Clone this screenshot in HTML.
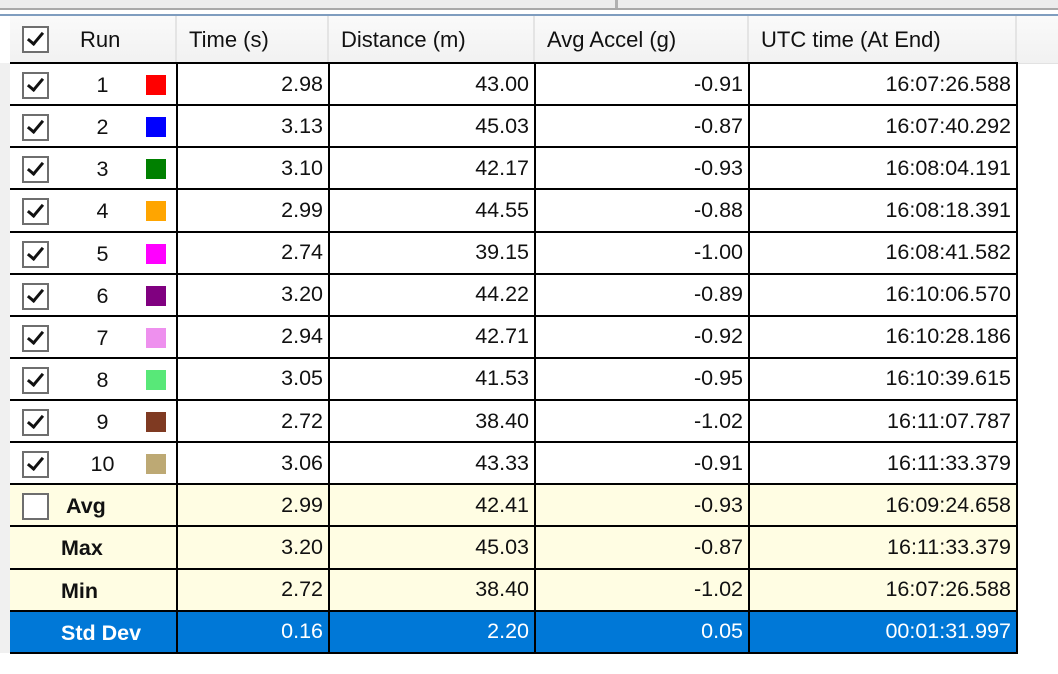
<!DOCTYPE html>
<html><head><meta charset="utf-8"><style>
html,body{margin:0;padding:0;width:1058px;height:674px;overflow:hidden;background:#fff;font-family:"Liberation Sans",sans-serif;}
.top{position:absolute;left:0;top:0;width:1058px;height:8px;background:#ececec;}
.top .sep{position:absolute;left:615px;top:0;width:3px;height:8px;background:#b0b0b0;}
.l1{position:absolute;left:0;top:8px;width:1058px;height:2px;background:#a8a8a8;}
.l2{position:absolute;left:0;top:14px;width:1058px;height:2px;background:#7f9dbf;}
.strip{position:absolute;left:0;top:63px;width:10px;height:590px;background:#f0f0f0;}
.hdr{position:absolute;left:10px;top:16px;width:1048px;height:47px;background:linear-gradient(#fafafa,#f1f1f1);border-bottom:1px solid #e2e2e2;}
.hc{position:absolute;top:0;height:47px;line-height:48px;font-size:22px;color:#111;border-right:2px solid #e4e4e4;box-sizing:border-box;padding-left:12px;}
table{position:absolute;left:10px;top:62px;border-collapse:collapse;table-layout:fixed;}
td{border:2px solid #000;height:40.14px;padding:0 5px 0 0;font-size:21.5px;text-align:right;color:#111;white-space:nowrap;overflow:hidden;}
td.f{border-left:none;text-align:left;padding:0;position:relative;}
tr.y td{background:#fffde3;}
tr.b td{background:#0078d7;color:#fff;}
.cb{position:absolute;left:12px;top:8px;width:23px;height:23px;border:2px solid #6e6e6e;background:#fff;}
.cb.k::after{content:"";position:absolute;left:7px;top:1px;width:6px;height:13px;border:solid #111;border-width:0 3.5px 3.5px 0;transform:rotate(40deg);}
.n{position:absolute;left:70px;width:45px;text-align:center;top:0;line-height:42px;}
.sw{position:absolute;left:136px;top:11px;width:20px;height:20px;}
.bl{position:absolute;left:51px;line-height:42px;top:0;font-weight:bold;font-size:21.5px;}
</style></head><body>
<div class="top"><div class="sep"></div></div>
<div class="l1"></div><div class="l2"></div>
<div class="strip"></div>
<div class="hdr">
<div class="hc" style="left:0;width:167px;"><div class="cb k" style="top:10px;left:12px"></div><span style="position:absolute;left:70px">Run</span></div>
<div class="hc" style="left:167px;width:152px;">Time (s)</div>
<div class="hc" style="left:319px;width:206px;">Distance (m)</div>
<div class="hc" style="left:525px;width:214px;">Avg Accel (g)</div>
<div class="hc" style="left:739px;width:268px;">UTC time (At End)</div>
</div>
<table>
<colgroup><col style="width:167px"><col style="width:152px"><col style="width:206px"><col style="width:214px"><col style="width:268px"></colgroup>
<tr><td class="f"><div class="cb k"></div><span class="n">1</span><div class="sw" style="background:#ff0000"></div></td><td>2.98</td><td>43.00</td><td>-0.91</td><td>16:07:26.588</td></tr>
<tr><td class="f"><div class="cb k"></div><span class="n">2</span><div class="sw" style="background:#0000ff"></div></td><td>3.13</td><td>45.03</td><td>-0.87</td><td>16:07:40.292</td></tr>
<tr><td class="f"><div class="cb k"></div><span class="n">3</span><div class="sw" style="background:#008000"></div></td><td>3.10</td><td>42.17</td><td>-0.93</td><td>16:08:04.191</td></tr>
<tr><td class="f"><div class="cb k"></div><span class="n">4</span><div class="sw" style="background:#ffa500"></div></td><td>2.99</td><td>44.55</td><td>-0.88</td><td>16:08:18.391</td></tr>
<tr><td class="f"><div class="cb k"></div><span class="n">5</span><div class="sw" style="background:#ff00ff"></div></td><td>2.74</td><td>39.15</td><td>-1.00</td><td>16:08:41.582</td></tr>
<tr><td class="f"><div class="cb k"></div><span class="n">6</span><div class="sw" style="background:#800080"></div></td><td>3.20</td><td>44.22</td><td>-0.89</td><td>16:10:06.570</td></tr>
<tr><td class="f"><div class="cb k"></div><span class="n">7</span><div class="sw" style="background:#ee90ee"></div></td><td>2.94</td><td>42.71</td><td>-0.92</td><td>16:10:28.186</td></tr>
<tr><td class="f"><div class="cb k"></div><span class="n">8</span><div class="sw" style="background:#58e878"></div></td><td>3.05</td><td>41.53</td><td>-0.95</td><td>16:10:39.615</td></tr>
<tr><td class="f"><div class="cb k"></div><span class="n">9</span><div class="sw" style="background:#7f3a22"></div></td><td>2.72</td><td>38.40</td><td>-1.02</td><td>16:11:07.787</td></tr>
<tr><td class="f"><div class="cb k"></div><span class="n">10</span><div class="sw" style="background:#bda974"></div></td><td>3.06</td><td>43.33</td><td>-0.91</td><td>16:11:33.379</td></tr>
<tr class="y"><td class="f"><div class="cb"></div><span class="bl" style="left:56px">Avg</span></td><td>2.99</td><td>42.41</td><td>-0.93</td><td>16:09:24.658</td></tr>
<tr class="y"><td class="f"><span class="bl">Max</span></td><td>3.20</td><td>45.03</td><td>-0.87</td><td>16:11:33.379</td></tr>
<tr class="y"><td class="f"><span class="bl">Min</span></td><td>2.72</td><td>38.40</td><td>-1.02</td><td>16:07:26.588</td></tr>
<tr class="b"><td class="f"><span class="bl">Std Dev</span></td><td>0.16</td><td>2.20</td><td>0.05</td><td>00:01:31.997</td></tr>
</table>
</body></html>
